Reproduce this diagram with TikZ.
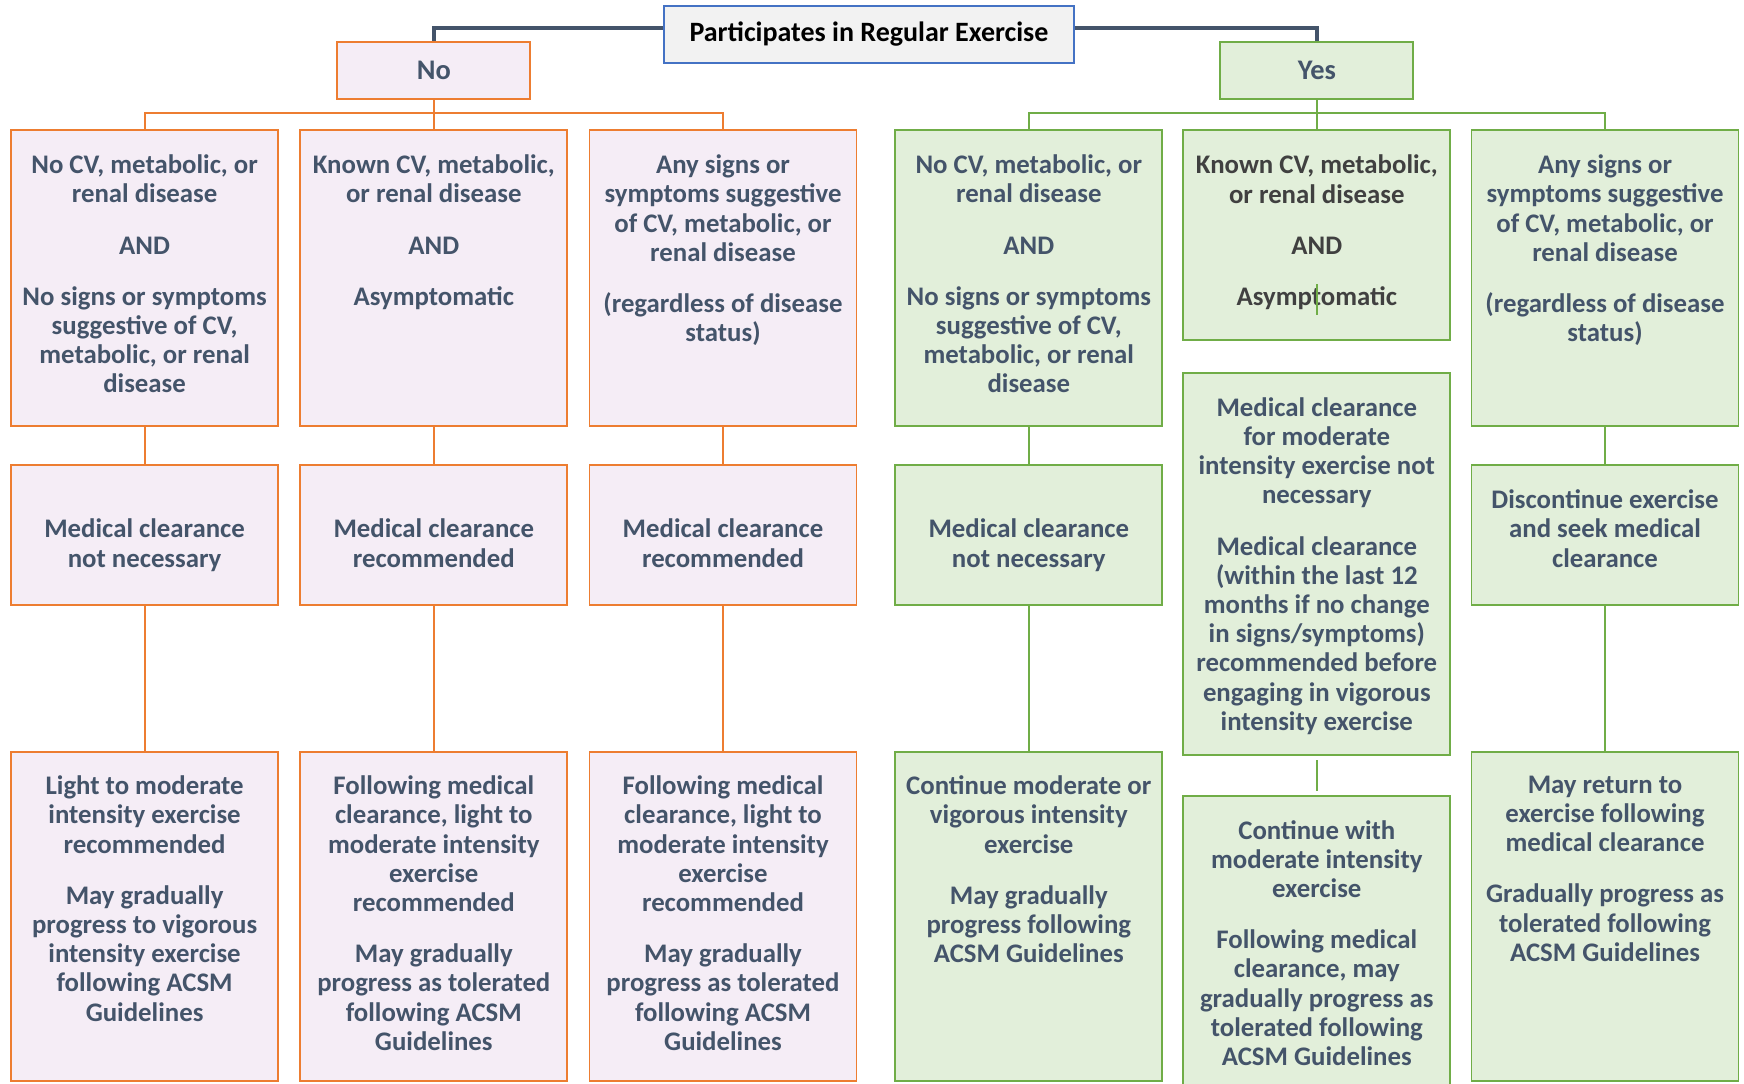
\documentclass[tikz,border=0pt]{standalone}
\usepackage{fontspec}
\setmainfont{Carlito}
\usepackage{xcolor}
\usetikzlibrary{positioning}

\definecolor{slate}{HTML}{44546A}
\definecolor{darkgray}{HTML}{404040}
\definecolor{orng}{HTML}{ED7D31}
\definecolor{pinkfill}{HTML}{F5EDF6}
\definecolor{grn}{HTML}{70AD47}
\definecolor{grnfill}{HTML}{E2EFDA}
\definecolor{rootblue}{HTML}{4472C4}
\definecolor{rootfill}{HTML}{F2F2F2}

\tikzset{
  nobox/.style={draw=orng, fill=pinkfill, line width=0.9pt, minimum width=133.5pt, inner sep=0pt},
  yesbox/.style={draw=grn, fill=grnfill, line width=0.9pt, minimum width=133.5pt, inner sep=0pt},
  txt/.style={text=slate, font=\bfseries\fontsize{13.4}{14.6}\selectfont, align=center, anchor=north, inner sep=0pt},
  oline/.style={draw=orng, line width=1pt},
  gline/.style={draw=grn, line width=1pt},
  rootline/.style={draw=slate, line width=1.7pt}
}

\begin{document}
\begin{tikzpicture}[x=0.5pt,y=-0.5pt]
\useasboundingbox (0,0) rectangle (1744,1083);

% connectors first, boxes cover them
\coordinate (nbus) at (433.8,113.4);
\coordinate (ybus) at (1316.8,113.4);

% top level
\node[draw=rootblue, fill=rootfill, line width=0.9pt, minimum width=205pt, minimum height=28.5pt,
  font=\bfseries\fontsize{14}{16}\selectfont] (root) at (869,34.5) {Participates in Regular Exercise};
\node[nobox, minimum width=96.5pt, minimum height=28.5pt, text=slate,
  font=\bfseries\fontsize{14.2}{16}\selectfont] (no) at (433.8,70.7) {No};
\node[yesbox, minimum width=96.5pt, minimum height=28.5pt, text=slate,
  font=\bfseries\fontsize{14.2}{16}\selectfont] (yes) at (1316.8,70.7) {Yes};
\draw[rootline] ([yshift=3.25pt]root.west) -| (no.north);
\draw[rootline] ([yshift=3.25pt]root.east) -| (yes.north);

% No side
\node[nobox, minimum height=148pt] (na1) at (144.6,278) {};
\node[nobox, minimum height=148pt] (na2) at (433.8,278) {};
\node[nobox, minimum height=148pt] (na3) at (723,278) {};
\node[nobox, minimum height=70pt] (nb1) at (144.6,535) {};
\node[nobox, minimum height=70pt] (nb2) at (433.8,535) {};
\node[nobox, minimum height=70pt] (nb3) at (723,535) {};
\node[nobox, minimum height=164.5pt] (nc1) at (144.6,916.5) {};
\node[nobox, minimum height=164.5pt] (nc2) at (433.8,916.5) {};
\node[nobox, minimum height=164.5pt] (nc3) at (723,916.5) {};

\draw[oline] (no.south) -- (nbus) -| (na1.north);
\draw[oline] (nbus) -| (na3.north);
\draw[oline] (nbus) -- (na2.north);
\draw[oline] (na1) -- (nb1);
\draw[oline] (na2) -- (nb2);
\draw[oline] (na3) -- (nb3);
\draw[oline] (nb1) -- (nc1);
\draw[oline] (nb2) -- (nc2);
\draw[oline] (nb3) -- (nc3);

% Yes side
\node[yesbox, minimum height=148pt] (ya1) at (1028.8,278) {};
\node[yesbox, minimum height=105pt] (ya2) at (1316.8,235.2) {};
\node[yesbox, minimum height=148pt] (ya3) at (1605,278) {};
\node[yesbox, minimum height=70pt] (yb1) at (1028.8,535) {};
\node[yesbox, minimum height=191.3pt] (yb2) at (1316.8,563.9) {};
\node[yesbox, minimum height=70pt] (yb3) at (1605,535) {};
\node[yesbox, minimum height=164.5pt] (yc1) at (1028.8,916.5) {};
\node[yesbox, minimum height=155pt] (yc2) at (1316.8,951.3) {};
\node[yesbox, minimum height=164.5pt] (yc3) at (1605,916.5) {};

\draw[gline] (yes.south) -- (ybus) -| (ya1.north);
\draw[gline] (ybus) -| (ya3.north);
\draw[gline] (ybus) -- (ya2.north);
\draw[gline] (ya1) -- (yb1);
\draw[gline] (ya3) -- (yb3);
\draw[gline] (yb1) -- (yc1);
\draw[gline, shorten <=2pt, shorten >=2pt] (yb2) -- (yc2);
\draw[gline] (yb3) -- (yc3);

% texts, row a
\node[txt] (tna1) at ([yshift=-12.7pt]na1.north) {No CV, metabolic, or\\renal disease\\[11pt]AND\\[11pt]No signs or symptoms\\suggestive of CV,\\metabolic, or renal\\disease};
\node[txt] (tna2) at ([yshift=-12.7pt]na2.north) {Known CV, metabolic,\\or renal disease\\[11pt]AND\\[11pt]Asymptomatic};
\node[txt] (tna3) at ([yshift=-12.7pt]na3.north) {Any signs or\\symptoms suggestive\\of CV, metabolic, or\\renal disease\\[11pt](regardless of disease\\status)};
\node[txt] (tya1) at ([yshift=-12.7pt]ya1.north) {No CV, metabolic, or\\renal disease\\[11pt]AND\\[11pt]No signs or symptoms\\suggestive of CV,\\metabolic, or renal\\disease};
\node[txt, text=darkgray] (tya2) at ([yshift=-12.7pt]ya2.north) {Known CV, metabolic,\\or renal disease\\[11pt]AND\\[11pt]Asymptomatic};
\node[txt] (tya3) at ([yshift=-12.7pt]ya3.north) {Any signs or\\symptoms suggestive\\of CV, metabolic, or\\renal disease\\[11pt](regardless of disease\\status)};

% texts, row b
\node[txt] (tnb1) at ([yshift=-27.3pt]nb1.north) {Medical clearance\\not necessary};
\node[txt] (tnb2) at ([yshift=-27.3pt]nb2.north) {Medical clearance\\recommended};
\node[txt] (tnb3) at ([yshift=-27.3pt]nb3.north) {Medical clearance\\recommended};
\node[txt] (tyb1) at ([yshift=-27.3pt]yb1.north) {Medical clearance\\not necessary};
\node[txt] (tyb2) at ([yshift=-12.7pt]yb2.north) {Medical clearance\\for moderate\\intensity exercise not\\necessary\\[11pt]Medical clearance\\(within the last 12\\months if no change\\in signs/symptoms)\\recommended before\\engaging in vigorous\\intensity exercise};
\node[txt] (tyb3) at ([yshift=-12.7pt]yb3.north) {Discontinue exercise\\and seek medical\\clearance};

% texts, row c
\node[txt] (tnc1) at ([yshift=-12.2pt]nc1.north) {Light to moderate\\intensity exercise\\recommended\\[11pt]May gradually\\progress to vigorous\\intensity exercise\\following ACSM\\Guidelines};
\node[txt] (tnc2) at ([yshift=-12.2pt]nc2.north) {Following medical\\clearance, light to\\moderate intensity\\exercise\\recommended\\[11pt]May gradually\\progress as tolerated\\following ACSM\\Guidelines};
\node[txt] (tnc3) at ([yshift=-12.2pt]nc3.north) {Following medical\\clearance, light to\\moderate intensity\\exercise\\recommended\\[11pt]May gradually\\progress as tolerated\\following ACSM\\Guidelines};
\node[txt] (tyc1) at ([yshift=-12.2pt]yc1.north) {Continue moderate or\\vigorous intensity\\exercise\\[11pt]May gradually\\progress following\\ACSM Guidelines};
\node[txt] (tyc2) at ([yshift=-12.2pt]yc2.north) {Continue with\\moderate intensity\\exercise\\[11pt]Following medical\\clearance, may\\gradually progress as\\tolerated following\\ACSM Guidelines};
\node[txt] (tyc3) at ([yshift=-12.2pt]yc3.north) {May return to\\exercise following\\medical clearance\\[11pt]Gradually progress as\\tolerated following\\ACSM Guidelines};

% bit of the Yes line showing through
\coordinate (glitchtop) at (1316.8,284);
\coordinate (glitchbot) at (1316.8,315);
\draw[gline] (glitchtop) -- (glitchbot);
\end{tikzpicture}
\end{document}
